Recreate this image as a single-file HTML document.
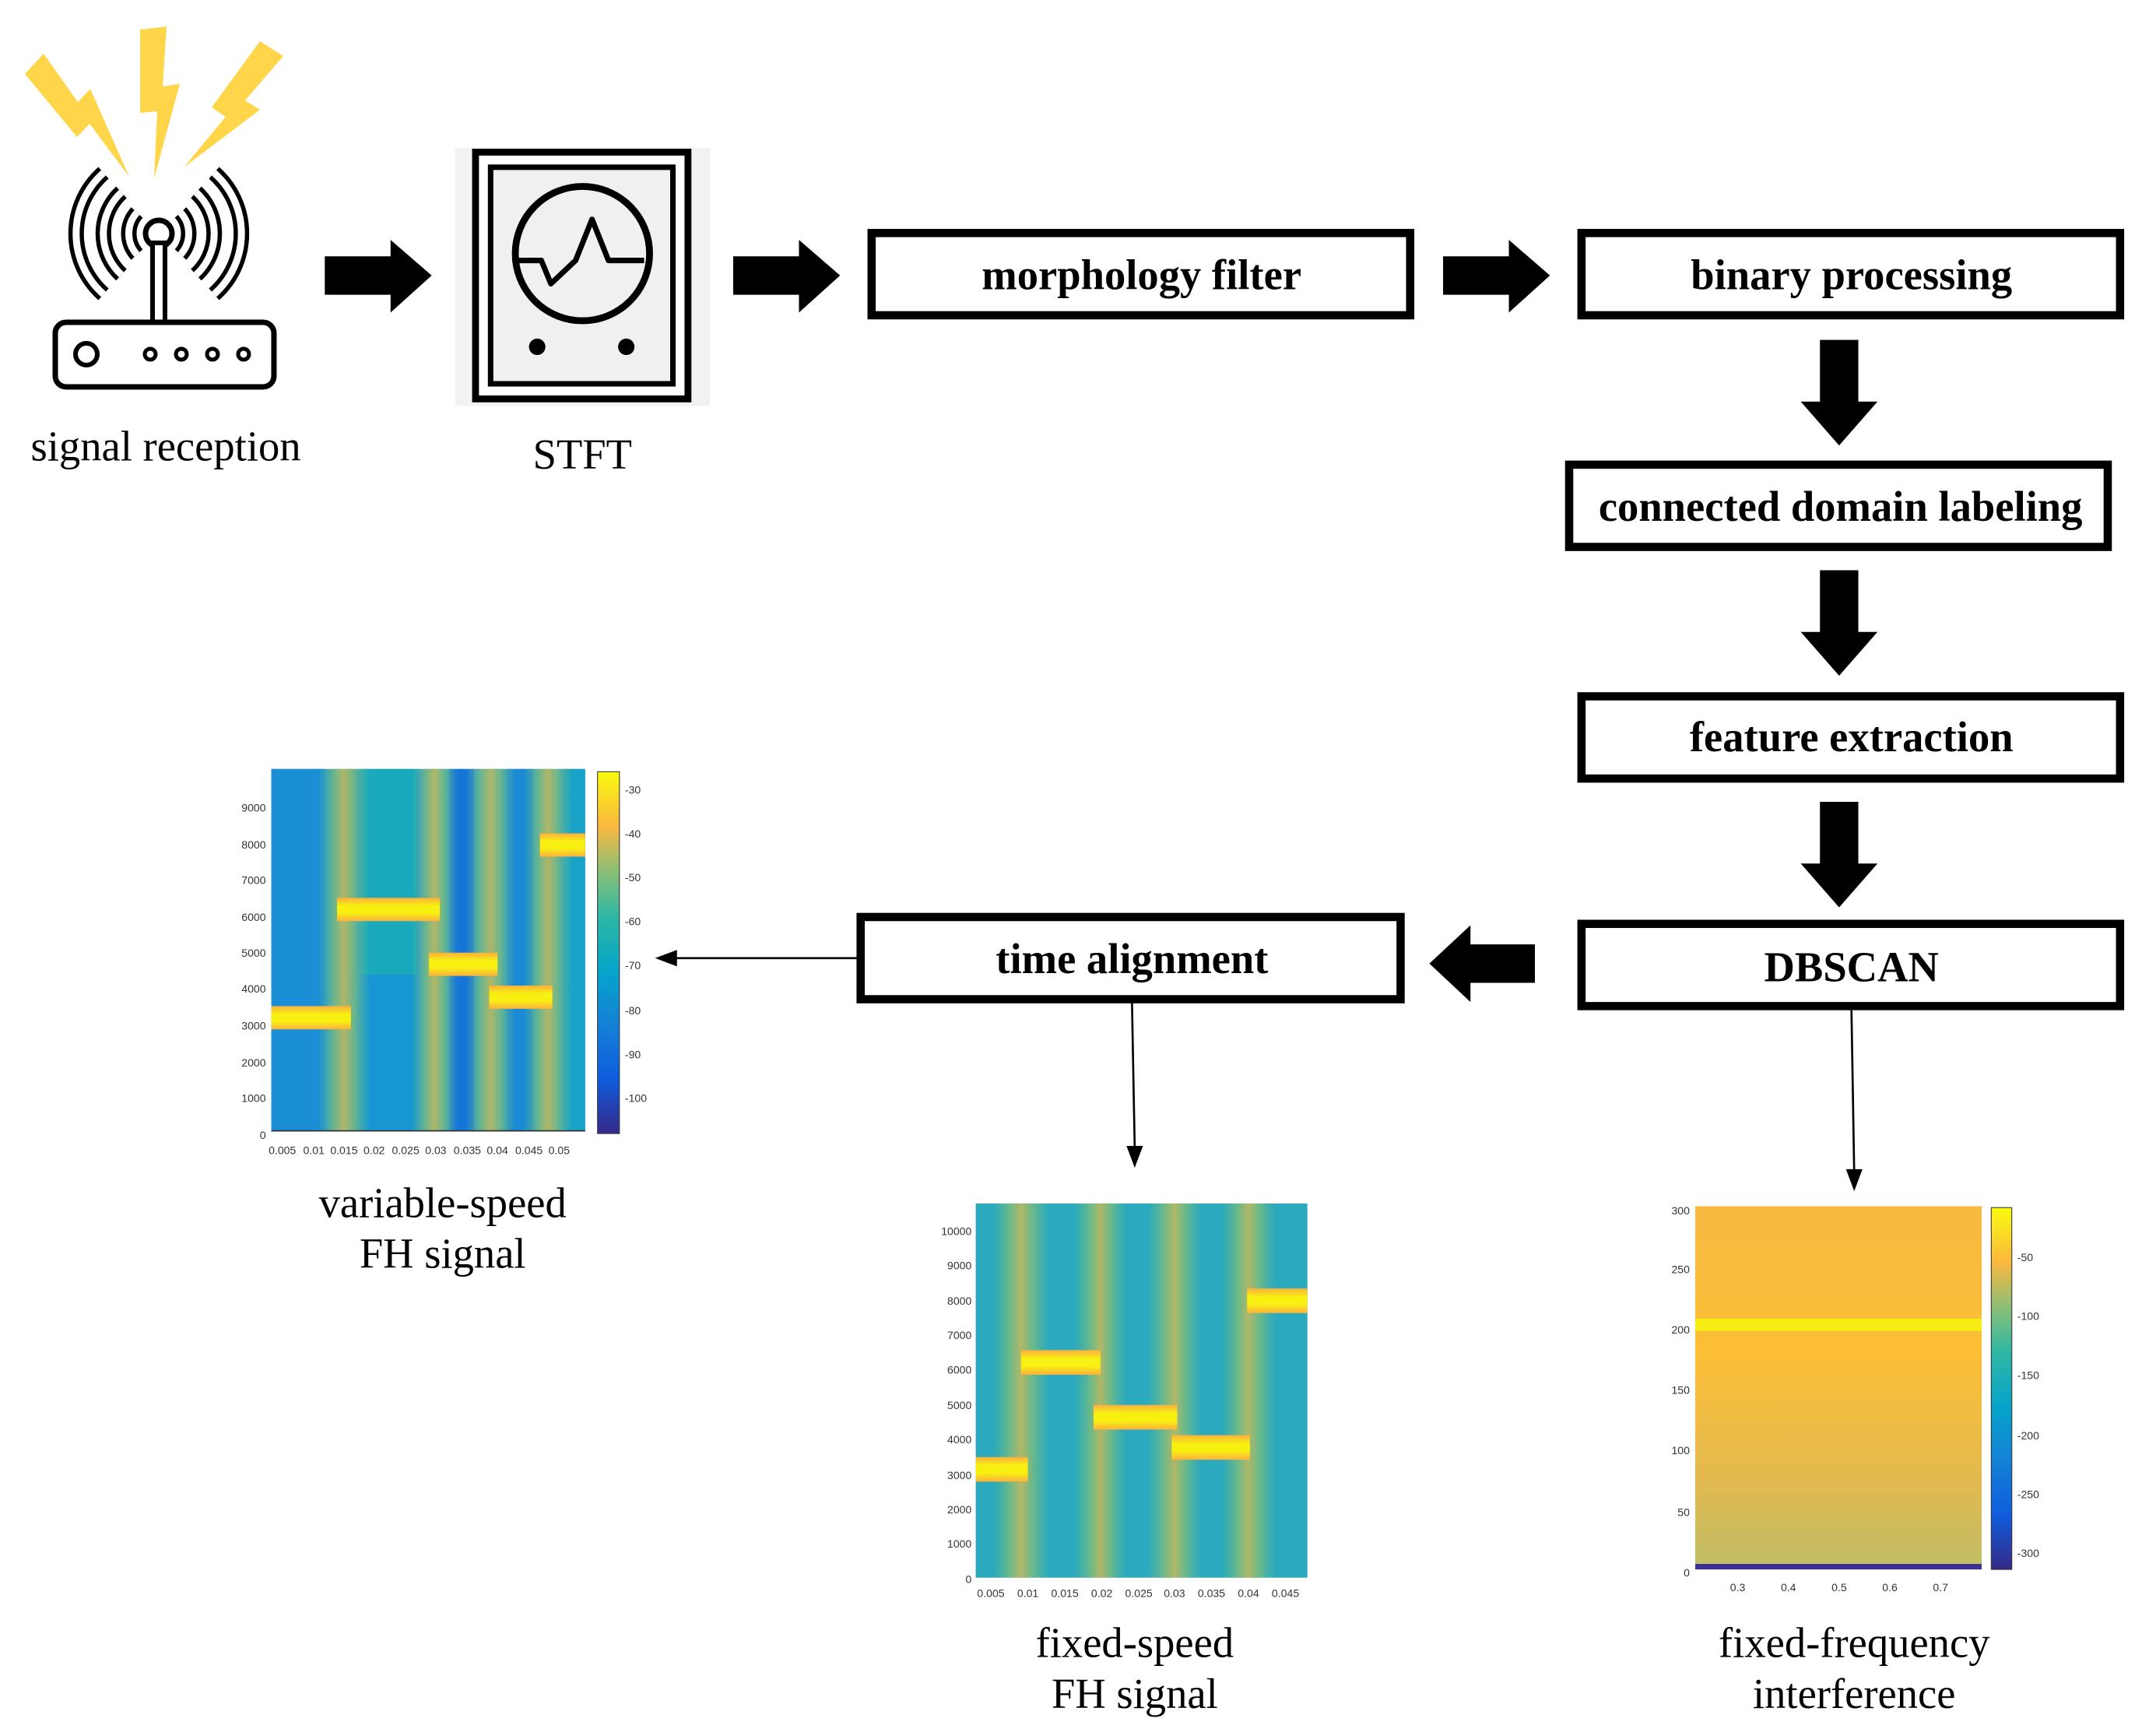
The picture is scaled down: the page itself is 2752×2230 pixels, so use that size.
<!DOCTYPE html>
<html><head><meta charset="utf-8"><style>
html,body{margin:0;padding:0;background:#fff;}
svg{display:block;}
text{font-family:"Liberation Serif",serif;}
.b{font-weight:bold;font-size:31px;text-anchor:middle;}
.c{font-size:31px;text-anchor:middle;}
.t text{font-family:"Liberation Sans",sans-serif;font-size:8px;fill:#333;}
</style></head><body>
<svg width="2752" height="2230" viewBox="0 0 1563 1266.5" xmlns="http://www.w3.org/2000/svg">
<defs>
<linearGradient id="parula" x1="0" y1="1" x2="0" y2="0">
<stop offset="0" stop-color="#352a87"/><stop offset="0.15" stop-color="#0f5cdd"/><stop offset="0.3" stop-color="#1481d6"/><stop offset="0.45" stop-color="#06a4ca"/><stop offset="0.6" stop-color="#2eb7a4"/><stop offset="0.72" stop-color="#87bf77"/><stop offset="0.85" stop-color="#fbb83e"/><stop offset="1" stop-color="#f9fb0e"/>
</linearGradient>
<linearGradient id="glowV" x1="0" y1="0" x2="1" y2="0">
<stop offset="0" stop-color="#5cb98e" stop-opacity="0"/><stop offset="0.3" stop-color="#7cbd7c" stop-opacity="0.8"/><stop offset="0.5" stop-color="#b9b862" stop-opacity="0.95"/><stop offset="0.7" stop-color="#7cbd7c" stop-opacity="0.8"/><stop offset="1" stop-color="#5cb98e" stop-opacity="0"/>
</linearGradient>
<linearGradient id="seg" x1="0" y1="0" x2="0" y2="1">
<stop offset="0" stop-color="#fbb040"/><stop offset="0.35" stop-color="#f8f010"/><stop offset="0.65" stop-color="#f8f010"/><stop offset="1" stop-color="#fbb040"/>
</linearGradient>
<linearGradient id="orange" x1="0" y1="0" x2="0" y2="1">
<stop offset="0" stop-color="#f6b942"/><stop offset="0.4" stop-color="#fcbf36"/><stop offset="0.75" stop-color="#e2b94f"/><stop offset="1" stop-color="#bfbe66"/>
</linearGradient>
</defs>

<g transform="scale(0.5679)">
<g fill="#ffd54a">
<polygon points="32,95 56,69 100,131 116,114 166,227 115,159 99,176"/>
<polygon points="180,38 214,34 209,111 231,108 198,229 202,143 180,145"/>
<polygon points="334,53 364,72 315,129 334,141 236,215 290,150 272,138"/>
</g>
<g fill="none" stroke="#000" stroke-width="20">
<path d="M176,273 A40,40 0 0 0 176,327"/><path d="M232,273 A40,40 0 0 1 232,327"/>
<path d="M156,247 A72,72 0 0 0 156,353"/><path d="M252,247 A72,72 0 0 1 252,353"/>
<path d="M133,222 A104,104 0 0 0 133,378"/><path d="M275,222 A104,104 0 0 1 275,378"/>
</g>
<g fill="none" stroke="#fff" stroke-width="9">
<path d="M176,273 A40,40 0 0 0 176,327"/><path d="M232,273 A40,40 0 0 1 232,327"/>
<path d="M156,247 A72,72 0 0 0 156,353"/><path d="M252,247 A72,72 0 0 1 252,353"/>
<path d="M133,222 A104,104 0 0 0 133,378"/><path d="M275,222 A104,104 0 0 1 275,378"/>
</g>
<circle cx="204" cy="300" r="17" fill="none" stroke="#000" stroke-width="7"/>
<rect x="196" y="312" width="16" height="104" fill="#fff" stroke="#000" stroke-width="6"/>
<rect x="71" y="414" width="281" height="83" rx="14" fill="#fff" stroke="#000" stroke-width="7"/>
<circle cx="111" cy="455" r="14" fill="none" stroke="#000" stroke-width="6"/>
<circle cx="193" cy="455" r="7" fill="none" stroke="#000" stroke-width="5"/>
<circle cx="233" cy="455" r="7" fill="none" stroke="#000" stroke-width="5"/>
<circle cx="273" cy="455" r="7" fill="none" stroke="#000" stroke-width="5"/>
<circle cx="313" cy="455" r="7" fill="none" stroke="#000" stroke-width="5"/>
</g>
<text class="c" x="121" y="336">signal reception</text>

<g fill="#000">
<polygon points="237,187 285,187 285,175 315,201 285,228 285,215 237,215"/>
<polygon points="535,187 583,187 583,175 613,201 583,228 583,215 535,215"/>
<polygon points="1053,187 1101,187 1101,175 1131,201 1101,228 1101,215 1053,215"/>
<polygon points="1328,248 1356,248 1356,293 1370,293 1342,325 1314,293 1328,293"/>
<polygon points="1328,416 1356,416 1356,461 1370,461 1342,493 1314,461 1328,461"/>
<polygon points="1328,585 1356,585 1356,630 1370,630 1342,662 1314,630 1328,630"/>
<polygon points="1120,689 1073,689 1073,675 1043,703 1073,731 1073,717 1120,717"/>
</g>

<rect x="332" y="108" width="186" height="188" fill="#f2f2f2"/>
<rect x="347" y="111" width="155" height="180" fill="#fff" stroke="#000" stroke-width="5"/>
<rect x="358" y="122" width="133" height="158" fill="#f0f0f0" stroke="#000" stroke-width="4"/>
<circle cx="425" cy="185" r="49" fill="#f0f0f0" stroke="#000" stroke-width="5"/>
<polyline points="378,190 395,190 402,207 420,190 432,160 444,190 470,190" fill="none" stroke="#000" stroke-width="4" stroke-linejoin="round"/>
<circle cx="392" cy="253" r="6"/><circle cx="457" cy="253" r="6"/>
<text class="c" x="425" y="342">STFT</text>

<g fill="#fff" stroke="#000" stroke-width="6">
<rect x="636" y="170" width="393" height="60"/>
<rect x="1154" y="170" width="393" height="60"/>
<rect x="1145" y="339" width="393" height="60"/>
<rect x="1154" y="508" width="393" height="60"/>
<rect x="1154" y="674" width="393" height="60"/>
<rect x="628" y="669" width="394" height="60"/>
</g>
<text class="b" x="833" y="211">morphology filter</text>
<text class="b" x="1351" y="211">binary processing</text>
<text class="b" x="1343" y="380">connected domain labeling</text>
<text class="b" x="1351" y="548">feature extraction</text>
<text class="b" x="1351" y="716">DBSCAN</text>
<text class="b" x="826" y="710">time alignment</text>

<g stroke="#000" stroke-width="1.5" fill="none">
<line x1="628" y1="699" x2="492" y2="699"/>
<line x1="826" y1="731" x2="828" y2="838"/>
<line x1="1351" y1="737" x2="1353" y2="856"/>
</g>
<polygon points="478,699 494,693 494,705"/>
<polygon points="828,852 822,836 834,836"/>
<polygon points="1353,869 1347,853 1359,853"/>

<!-- plot 1 -->
<rect x="198" y="561" width="229" height="264" fill="#1e96d4"/>
<rect x="198" y="561" width="40" height="264" fill="#1a8fd6"/>
<rect x="263" y="561" width="41" height="150" fill="#19a9bd"/>
<rect x="263" y="711" width="41" height="114" fill="#1898d2"/>
<rect x="328" y="561" width="18" height="264" fill="#1676d8"/>
<rect x="369" y="561" width="20" height="264" fill="#1a8ad4"/>
<rect x="412" y="561" width="15" height="264" fill="#1aa3c8"/>
<rect x="232" y="561" width="38" height="264" fill="url(#glowV)"/>
<rect x="300" y="561" width="34" height="264" fill="url(#glowV)"/>
<rect x="340" y="561" width="36" height="264" fill="url(#glowV)"/>
<rect x="382" y="561" width="36" height="264" fill="url(#glowV)"/>
<rect x="198" y="734" width="58" height="17" fill="url(#seg)"/>
<rect x="246" y="655" width="75" height="17" fill="url(#seg)"/>
<rect x="313" y="695" width="50" height="17" fill="url(#seg)"/>
<rect x="357" y="719" width="46" height="17" fill="url(#seg)"/>
<rect x="394" y="608" width="33" height="17" fill="url(#seg)"/>
<line x1="198" y1="825" x2="427" y2="825" stroke="#333" stroke-width="1"/>
<rect x="436" y="563" width="16" height="264" fill="url(#parula)" stroke="#333" stroke-width="0.6"/>
<g class="t" text-anchor="end">
<text x="194" y="592">9000</text><text x="194" y="619">8000</text><text x="194" y="645">7000</text><text x="194" y="672">6000</text><text x="194" y="698">5000</text><text x="194" y="724">4000</text><text x="194" y="751">3000</text><text x="194" y="778">2000</text><text x="194" y="804">1000</text><text x="194" y="831">0</text>
</g>
<g class="t" text-anchor="middle">
<text x="206" y="842">0.005</text><text x="229" y="842">0.01</text><text x="251" y="842">0.015</text><text x="273" y="842">0.02</text><text x="296" y="842">0.025</text><text x="318" y="842">0.03</text><text x="341" y="842">0.035</text><text x="363" y="842">0.04</text><text x="386" y="842">0.045</text><text x="408" y="842">0.05</text>
</g>
<g class="t"><text x="456" y="579">-30</text><text x="456" y="611">-40</text><text x="456" y="643">-50</text><text x="456" y="675">-60</text><text x="456" y="707">-70</text><text x="456" y="740">-80</text><text x="456" y="772">-90</text><text x="456" y="804">-100</text></g>
<text class="c" x="323" y="888">variable-speed</text>
<text class="c" x="323" y="925">FH signal</text>

<!-- plot 2 -->
<rect x="712" y="878" width="242" height="273" fill="#2ba9bd"/>
<rect x="724" y="878" width="42" height="273" fill="url(#glowV)"/>
<rect x="784" y="878" width="38" height="273" fill="url(#glowV)"/>
<rect x="837" y="878" width="40" height="273" fill="url(#glowV)"/>
<rect x="891" y="878" width="40" height="273" fill="url(#glowV)"/>
<rect x="712" y="1063" width="38" height="18" fill="url(#seg)"/>
<rect x="745" y="985" width="58" height="18" fill="url(#seg)"/>
<rect x="798" y="1025" width="61" height="18" fill="url(#seg)"/>
<rect x="855" y="1047" width="57" height="18" fill="url(#seg)"/>
<rect x="910" y="940" width="44" height="18" fill="url(#seg)"/>
<g class="t" text-anchor="end">
<text x="709" y="901">10000</text><text x="709" y="926">9000</text><text x="709" y="952">8000</text><text x="709" y="977">7000</text><text x="709" y="1002">6000</text><text x="709" y="1028">5000</text><text x="709" y="1053">4000</text><text x="709" y="1079">3000</text><text x="709" y="1104">2000</text><text x="709" y="1129">1000</text><text x="709" y="1155">0</text>
</g>
<g class="t" text-anchor="middle">
<text x="723" y="1165">0.005</text><text x="750" y="1165">0.01</text><text x="777" y="1165">0.015</text><text x="804" y="1165">0.02</text><text x="831" y="1165">0.025</text><text x="857" y="1165">0.03</text><text x="884" y="1165">0.035</text><text x="911" y="1165">0.04</text><text x="938" y="1165">0.045</text>
</g>
<text class="c" x="828" y="1209">fixed-speed</text>
<text class="c" x="828" y="1246">FH signal</text>

<!-- plot 3 -->
<rect x="1237" y="880" width="209" height="265" fill="url(#orange)"/>
<rect x="1237" y="962" width="209" height="9" fill="#f6ee12"/>
<rect x="1237" y="1141" width="209" height="4" fill="#3a3190"/>
<rect x="1453" y="881" width="15" height="264" fill="url(#parula)" stroke="#333" stroke-width="0.6"/>
<g class="t" text-anchor="end">
<text x="1233" y="886">300</text><text x="1233" y="929">250</text><text x="1233" y="973">200</text><text x="1233" y="1017">150</text><text x="1233" y="1061">100</text><text x="1233" y="1106">50</text><text x="1233" y="1150">0</text>
</g>
<g class="t" text-anchor="middle">
<text x="1268" y="1161">0.3</text><text x="1305" y="1161">0.4</text><text x="1342" y="1161">0.5</text><text x="1379" y="1161">0.6</text><text x="1416" y="1161">0.7</text>
</g>
<g class="t"><text x="1472" y="920">-50</text><text x="1472" y="963">-100</text><text x="1472" y="1006">-150</text><text x="1472" y="1050">-200</text><text x="1472" y="1093">-250</text><text x="1472" y="1136">-300</text></g>
<text class="c" x="1353" y="1209">fixed-frequency</text>
<text class="c" x="1353" y="1246">interference</text>
</svg>
</body></html>
